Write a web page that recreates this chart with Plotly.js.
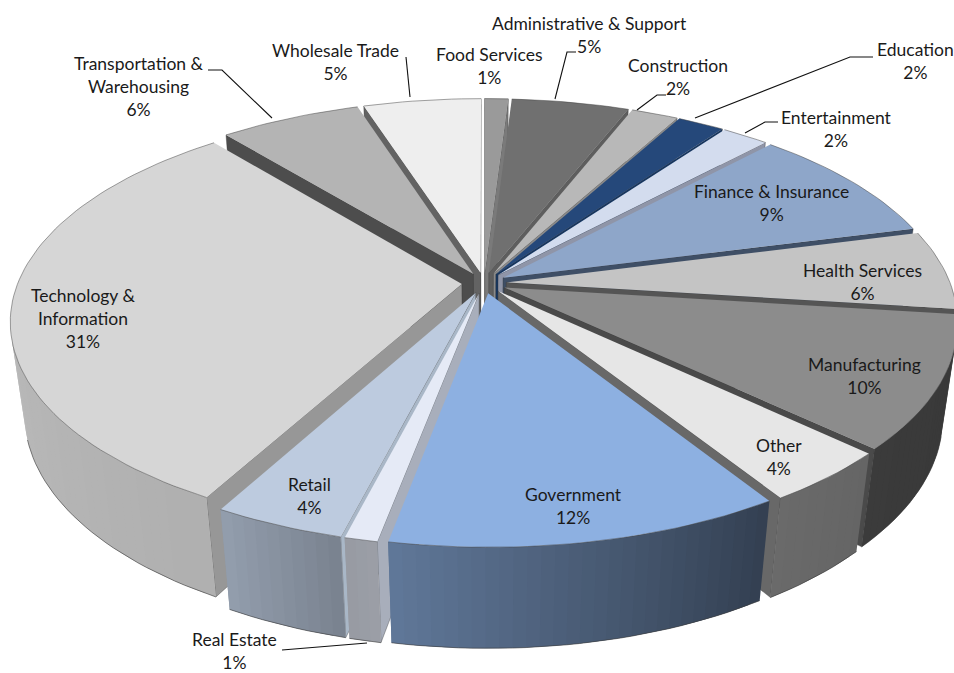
<!DOCTYPE html>
<html>
<head>
<meta charset="utf-8">
<script src="https://cdn.plot.ly/plotly-3.0.1.min.js"></script>
<style>html,body{margin:0;padding:0;background:#fff}#chart{width:954px;height:673px}</style>
</head>
<body>
<div id="chart"></div>
<script>
// Industry shares, clockwise from twelve o'clock
const categories = ["Food Services","Administrative & Support","Construction","Education","Entertainment","Finance & Insurance","Health Services","Manufacturing","Other","Government","Real Estate","Retail","Technology & Information","Transportation & Warehousing","Wholesale Trade"];
const shares = [1,5,2,2,2,9,6,10,4,12,1,4,31,6,5];
const topColors = ["#9a9a9a","#707070","#b8b8b8","#25487a","#d3dcee","#8ea6c9","#c4c4c4","#8c8c8c","#e6e6e6","#8db0e1","#e5eaf6","#bdcbdf","#d6d6d6","#b4b4b4","#eeeeee"];
const cutColors = ["#7a7a7a","#5e5e5e","#8a8a8a","#163660","#8f95a8","#3f4f66","#555555","#4a4a4a","#686868","#b5bbc8","#a8aebb","#a9b7c7","#979797","#4d4d4d","#636363"];
// Wall brightness at the start and end of each wedge's outer arc
const wallStart = [.5,.5,.5,.5,.5,.5,.4,.40,.44,.36,.68,.64,.82,.8,.8];
const wallEnd   = [.5,.5,.5,.5,.5,.5,.4,.42,.46,.68,.66,.78,.92,.8,.8];
const labelLines = ["Food Services<br>1%","Administrative & Support<br>5%","Construction<br>2%","Education<br>2%","Entertainment<br>2%","Finance & Insurance<br>9%","Health Services<br>6%","Manufacturing<br>10%","Other<br>4%","Government<br>12%","Real Estate<br>1%","Retail<br>4%","Technology &<br>Information<br>31%","Transportation &<br>Warehousing<br>6%","Wholesale Trade<br>5%"];
const labelX = [489,589,678,915,836,771,862,864,779,573,234,309,83,139,335];
const labelY = [66,35,77,61,129,203,282,376,457,506,651,496,318,86,62];
const leaders = [
  [[406,57],[410,97]],
  [[208,70],[222,70],[272,118]],
  [[576,52],[567,52],[555,99]],
  [[666,95],[657,95],[637,110]],
  [[873,57],[850,57],[695,118]],
  [[778,122],[765,122],[745,133]],
  [[282,650],[367,643]]
];

// Tilted, perspective view of the pie disc
const view = {cx:484, cy:283, rx:444, ry:207, depth:94, persp:0.17, sink:0.03, explode:0.05};

function project(x, y, z) {
  const s = 1 / (1 - view.persp * y + view.sink * z);
  return [view.cx + view.rx * x * s, view.cy + (view.ry * y + view.depth * z) * s];
}
function signedArea(p) {
  let a = 0;
  for (let i = 0; i < p.length; i++) {
    const q = p[(i + 1) % p.length];
    a += p[i][0] * q[1] - q[0] * p[i][1];
  }
  return a / 2;
}
function shade(hex, f) {
  const n = parseInt(hex.slice(1), 16);
  const c = [n >> 16, (n >> 8) & 255, n & 255].map(v => Math.round(Math.min(255, v * f)));
  return `rgb(${c[0]},${c[1]},${c[2]})`;
}
function polygon(points, fill, edge) {
  return {
    type: "scatter", mode: "lines", hoverinfo: "skip", showlegend: false,
    x: points.map(p => p[0]).concat(points[0][0]),
    y: points.map(p => p[1]).concat(points[0][1]),
    fill: "toself", fillcolor: fill,
    line: {color: edge || fill, width: edge ? 0.8 : 0}
  };
}
function polyline(points, color, width) {
  return {
    type: "scatter", mode: "lines", hoverinfo: "skip", showlegend: false,
    x: points.map(p => p[0]), y: points.map(p => p[1]),
    line: {color: color, width: width}
  };
}

const total = shares.reduce((a, b) => a + b, 0);
const wedges = [];
let running = 0;
shares.forEach((v, i) => {
  const a0 = running / total * 2 * Math.PI;
  running += v;
  const a1 = running / total * 2 * Math.PI;
  wedges.push({i, a0, a1, mid: (a0 + a1) / 2});
});
// Paint far wedges first
wedges.sort((p, q) => -Math.cos(p.mid) + Math.cos(q.mid));

const traces = [];
wedges.forEach(w => {
  const ox = view.explode * Math.sin(w.mid), oy = -view.explode * Math.cos(w.mid);
  const rim = (a, z) => project(ox + Math.sin(a), oy - Math.cos(a), z);
  const tip = z => project(ox, oy, z);
  const steps = Math.max(3, Math.ceil((w.a1 - w.a0) / (1.5 * Math.PI / 180)));
  const angle = k => w.a0 + (w.a1 - w.a0) * k / steps;

  // Radial cut faces, only the ones turned toward the viewer
  [[w.a0, -1], [w.a1, 1]].forEach(([a, dir]) => {
    const q = [tip(0), rim(a, 0), rim(a, 1), tip(1)];
    if (signedArea(q) * dir > 0) traces.push(polygon(q, cutColors[w.i], "rgba(50,50,50,0.45)"));
  });
  // Outer wall, split into overlapping strips for the shading gradient
  const topArc = [], lowArc = [];
  for (let k = 0; k < steps; k++) {
    const a = angle(k), b = angle(k + 1), c = angle(Math.min(k + 2, steps));
    const q = [rim(a, 0), rim(c, 0), rim(c, 1), rim(a, 1)];
    if (signedArea([rim(a, 0), rim(b, 0), rim(b, 1), rim(a, 1)]) < 0) {
      const t = (k + 0.5) / steps;
      traces.push(polygon(q, shade(topColors[w.i], wallStart[w.i] + (wallEnd[w.i] - wallStart[w.i]) * t)));
      lowArc.push(rim(a, 1));
      if (k === steps - 1) lowArc.push(rim(b, 1));
    }
  }
  if (lowArc.length) traces.push(polyline(lowArc, "rgba(60,60,60,0.6)", 1));
  // Top surface
  const top = [tip(0)];
  for (let k = 0; k <= steps; k++) { top.push(rim(angle(k), 0)); topArc.push(rim(angle(k), 0)); }
  traces.push(polygon(top, topColors[w.i]));
  traces.push(polyline(topArc, "rgba(70,70,70,0.5)", 1));
});

// Leader lines from outside labels to their wedges
leaders.forEach(l => traces.push(polyline(l, "#111111", 1.1)));

const annotations = categories.map((c, i) => ({
  x: labelX[i], y: labelY[i], xref: "x", yref: "y",
  text: labelLines[i], showarrow: false, align: "center",
  xanchor: "center", yanchor: "middle",
  font: {family: "Lato, Carlito, sans-serif", size: 17.5, color: "#1a1a1a"}
}));

Plotly.newPlot("chart", traces, {
  width: 954, height: 673,
  margin: {l: 0, r: 0, t: 0, b: 0},
  paper_bgcolor: "#ffffff", plot_bgcolor: "#ffffff",
  showlegend: false,
  xaxis: {range: [0, 954], visible: false, fixedrange: true},
  yaxis: {range: [673, 0], visible: false, fixedrange: true},
  annotations: annotations
}, {displayModeBar: false, staticPlot: true});
</script>
</body>
</html>
